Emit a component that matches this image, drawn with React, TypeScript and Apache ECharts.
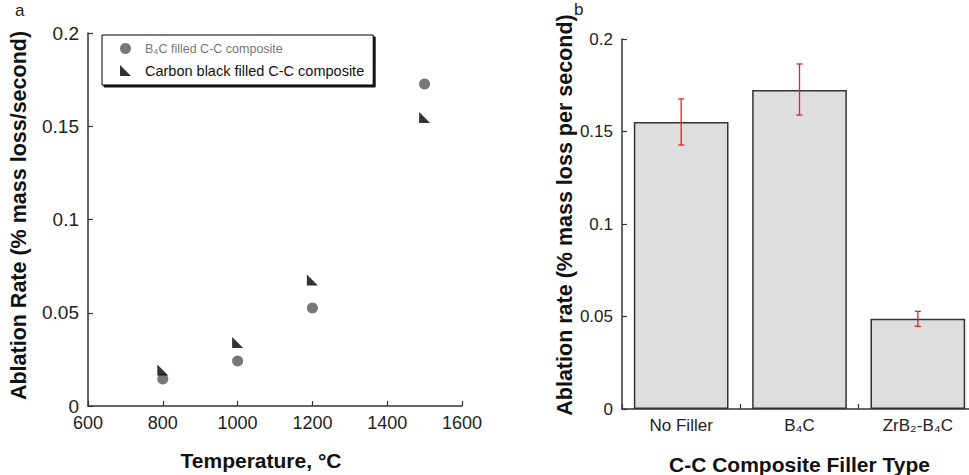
import React, { useEffect, useRef } from 'react';
import * as echarts from 'echarts';

// ---- Data (panel a) ----
const temperatures = [800, 1000, 1200, 1500];
const b4cRates = [0.0145, 0.0241, 0.0525, 0.1727];
const carbonBlackRates = [0.0193, 0.034, 0.0676, 0.1547];
const seriesNames = ['B₄C filled C-C composite', 'Carbon black filled C-C composite'];
const tempMin = 600;
const tempMax = 1600;
const tempStep = 200;

// ---- Data (panel b) ----
const fillerTypes = ['No Filler', 'B₄C', 'ZrB₂-B₄C'];
const barValues = [0.1551, 0.1724, 0.0488];
const errLow = [0.1427, 0.1589, 0.0447];
const errHigh = [0.1676, 0.1865, 0.0528];

const rateMin = 0;
const rateMax = 0.2;
const rateStep = 0.05;

const FONT = '"Liberation Sans", Arial, Helvetica, sans-serif';
const TRI = 'path://M0,0 L0,10 L10,10 Z';

export default function App() {
  const ref = useRef<HTMLDivElement>(null);

  useEffect(() => {
    if (!ref.current) return;
    const chart = echarts.init(ref.current, undefined, { renderer: 'svg' });

    const axisLine = { show: true, lineStyle: { color: '#333', width: 1.5 } };
    const axisTick = { show: true, inside: true, length: 5, lineStyle: { color: '#333', width: 1.2 } };
    const nameStyle = { fontSize: 21, fontWeight: 'bold' as const, color: '#111', fontFamily: FONT };

    const option: any = {
      animation: false,
      backgroundColor: '#fff',
      textStyle: { fontFamily: FONT },
      grid: [
        { left: 88, right: 969 - 462, top: 33, bottom: 475 - 406, outerBoundsMode: 'none' },
        { left: 622, right: -8, top: 39, bottom: 475 - 409, outerBoundsMode: 'none' },
      ],
      legend: {
        orient: 'vertical',
        left: 102,
        top: 35,
        padding: [7, 9, 7, 18],
        itemGap: 8,
        itemWidth: 11,
        itemHeight: 11,
        backgroundColor: '#fff',
        borderColor: '#000',
        borderWidth: 1,
        shadowColor: 'rgba(0,0,0,0.9)',
        shadowBlur: 1,
        shadowOffsetX: 2,
        shadowOffsetY: 2,
        data: [
          { name: seriesNames[0], icon: 'circle', textStyle: { fontSize: 12.5, color: '#777' } },
          { name: seriesNames[1], icon: TRI, textStyle: { fontSize: 14.5, color: '#111' } },
        ],
        textStyle: { padding: [0, 0, 0, 9], fontFamily: FONT },
      },
      xAxis: [
        {
          type: 'value',
          gridIndex: 0,
          min: tempMin,
          max: tempMax,
          interval: tempStep,
          name: 'Temperature, °C',
          nameLocation: 'middle',
          nameGap: 44,
          nameTextStyle: { ...nameStyle, padding: [0, 28, 0, 0] },
          axisLine,
          axisTick,
          splitLine: { show: false },
          axisLabel: {
            fontSize: 18,
            color: '#222',
            margin: 8,
            fontFamily: FONT,
            formatter: (v: number) => String(v),
          },
        },
        {
          type: 'category',
          gridIndex: 1,
          data: fillerTypes,
          name: 'C-C Composite Filler Type',
          nameLocation: 'middle',
          nameGap: 45,
          nameTextStyle: nameStyle,
          axisLine,
          axisTick: { ...axisTick, alignWithLabel: false, interval: 0 },
          splitLine: { show: false },
          axisLabel: { margin: 8, interval: 0, fontSize: 17, color: '#222', fontFamily: FONT },
        },
      ],
      yAxis: [
        {
          type: 'value',
          gridIndex: 0,
          min: rateMin,
          max: rateMax,
          interval: rateStep,
          name: 'Ablation Rate (% mass loss/second)',
          nameLocation: 'middle',
          nameGap: 58,
          nameTextStyle: { ...nameStyle, fontSize: 21.5, padding: [0, 0, 0, 8] },
          axisLine,
          axisTick,
          splitLine: { show: false },
          axisLabel: {
            fontSize: 19,
            color: '#222',
            margin: 9,
            lineHeight: 14,
            padding: [0, 0, 8, 0],
            fontFamily: FONT,
          },
        },
        {
          type: 'value',
          gridIndex: 1,
          min: rateMin,
          max: rateMax,
          interval: rateStep,
          name: 'Ablation rate (% mass loss per second)',
          nameLocation: 'middle',
          nameGap: 37,
          nameTextStyle: { ...nameStyle, fontSize: 21.5, padding: [0, 0, 0, 18] },
          axisLine,
          axisTick,
          splitLine: { show: false },
          axisLabel: { fontSize: 17, color: '#222', margin: 9, lineHeight: 14, fontFamily: FONT },
        },
      ],
      series: [
        {
          name: seriesNames[0],
          type: 'scatter',
          xAxisIndex: 0,
          yAxisIndex: 0,
          symbol: 'circle',
          symbolSize: 11,
          itemStyle: { color: '#555' },
          data: temperatures.map((t, i) => [t, b4cRates[i]]),
          z: 3,
        },
        {
          name: seriesNames[1],
          type: 'scatter',
          xAxisIndex: 0,
          yAxisIndex: 0,
          symbol: TRI,
          symbolSize: 11,
          itemStyle: { color: '#000' },
          data: temperatures.map((t, i) => [t, carbonBlackRates[i]]),
          z: 4,
        },
        {
          name: 'Ablation rate',
          type: 'bar',
          xAxisIndex: 1,
          yAxisIndex: 1,
          barCategoryGap: '20%',
          itemStyle: { color: '#dedede', borderColor: '#333', borderWidth: 1.5 },
          data: barValues,
        },
        {
          name: 'Error',
          type: 'custom',
          xAxisIndex: 1,
          yAxisIndex: 1,
          z: 10,
          encode: { x: 0, y: [1, 2] },
          data: fillerTypes.map((_, i) => [i, errLow[i], errHigh[i]]),
          renderItem: (params: any, api: any) => {
            const idx = api.value(0);
            const top = api.coord([idx, api.value(2)]);
            const bot = api.coord([idx, api.value(1)]);
            const x = top[0];
            const cap = 3;
            const style = { stroke: '#e3231f', lineWidth: 1.3 };
            return {
              type: 'group',
              children: [
                { type: 'line', shape: { x1: x, y1: top[1], x2: x, y2: bot[1] }, style },
                { type: 'line', shape: { x1: x - cap, y1: top[1], x2: x + cap, y2: top[1] }, style },
                { type: 'line', shape: { x1: x - cap, y1: bot[1], x2: x + cap, y2: bot[1] }, style },
              ],
            };
          },
        },
      ],
      graphic: [
        { type: 'text', left: 15, top: 2, style: { text: 'a', fontSize: 17, fill: '#222', fontFamily: FONT } },
        { type: 'text', left: 574, top: 1, style: { text: 'b', fontSize: 17, fill: '#222', fontFamily: FONT } },
      ],
    };

    chart.setOption(option);
    return () => chart.dispose();
  }, []);

  return (
    <div
      ref={ref}
      style={{ position: 'fixed', left: 0, top: 0, width: 969, height: 475, background: '#fff' }}
    />
  );
}
